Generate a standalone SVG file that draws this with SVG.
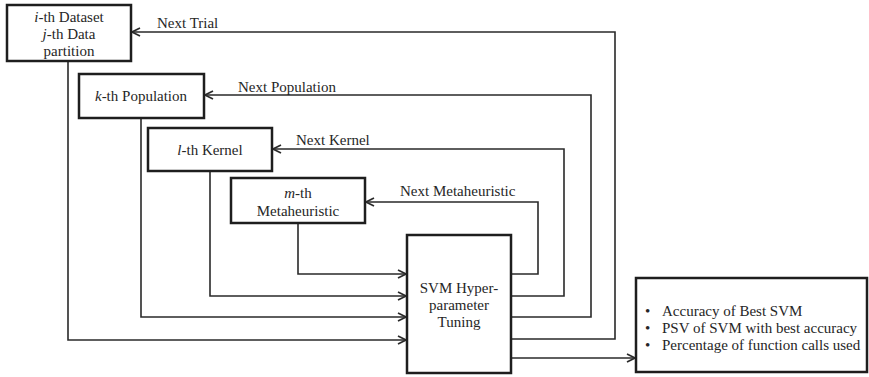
<svg xmlns="http://www.w3.org/2000/svg" width="869" height="377" viewBox="0 0 869 377">
  <style>
    .box { fill: #ffffff; stroke: #1e1e1e; stroke-width: 2.5; }
    .wire { fill: none; stroke: #2a2a2a; stroke-width: 1.6; }
    .lbl { font-family: "Liberation Serif", "DejaVu Serif", serif; font-size: 15px; fill: #262626; }
    .mid { text-anchor: middle; }
    .it { font-style: italic; }
  </style>
  <defs>
    <marker id="chev" viewBox="0 0 10 10" refX="9" refY="5" markerWidth="10" markerHeight="10" markerUnits="userSpaceOnUse" orient="auto">
      <path d="M1,1 L9,5 L1,9" fill="none" stroke="#2a2a2a" stroke-width="1.7"/>
    </marker>
  </defs>

  <!-- connectors -->
  <g id="connectors">
    <!-- feedback loops from the tuning block back to each level -->
    <path class="wire" d="M511,339 H615 V32 H132" marker-end="url(#chev)"/>
    <path class="wire" d="M511,317 H591 V95 H205" marker-end="url(#chev)"/>
    <path class="wire" d="M511,296 H564 V149 H273" marker-end="url(#chev)"/>
    <path class="wire" d="M511,274 H538 V202 H366" marker-end="url(#chev)"/>
    <!-- forward feeds into the tuning block -->
    <path class="wire" d="M68,61 V340 H406" marker-end="url(#chev)"/>
    <path class="wire" d="M141,118 V317 H406" marker-end="url(#chev)"/>
    <path class="wire" d="M210,171 V296 H406" marker-end="url(#chev)"/>
    <path class="wire" d="M298,223 V274 H406" marker-end="url(#chev)"/>
    <!-- result output -->
    <path class="wire" d="M511,358 H635" marker-end="url(#chev)"/>
    <text class="lbl" x="157" y="28">Next Trial</text>
    <text class="lbl" x="238" y="92">Next Population</text>
    <text class="lbl" x="296" y="145">Next Kernel</text>
    <text class="lbl" x="400" y="196">Next Metaheuristic</text>
  </g>

  <g id="dataset">
    <rect class="box" x="7" y="5" width="124" height="56"/>
    <text class="lbl mid" x="69" y="22"><tspan class="it">i</tspan>-th Dataset</text>
    <text class="lbl mid" x="69" y="39"><tspan class="it">j</tspan>-th Data</text>
    <text class="lbl mid" x="69" y="56">partition</text>
  </g>

  <g id="population">
    <rect class="box" x="79" y="74" width="125" height="44"/>
    <text class="lbl mid" x="141" y="101"><tspan class="it">k</tspan>-th Population</text>
  </g>

  <g id="kernel">
    <rect class="box" x="148" y="128" width="124" height="43"/>
    <text class="lbl mid" x="210" y="155"><tspan class="it">l</tspan>-th Kernel</text>
  </g>

  <g id="metaheuristic">
    <rect class="box" x="231" y="178" width="134" height="45"/>
    <text class="lbl mid" x="298" y="198"><tspan class="it">m</tspan>-th</text>
    <text class="lbl mid" x="298" y="216">Metaheuristic</text>
  </g>

  <g id="tuning">
    <rect class="box" x="407" y="235" width="104" height="138"/>
    <text class="lbl mid" x="459" y="293">SVM Hyper-</text>
    <text class="lbl mid" x="459" y="310">parameter</text>
    <text class="lbl mid" x="459" y="327">Tuning</text>
  </g>

  <g id="results">
    <rect class="box" x="636" y="278" width="231" height="94"/>
    <text class="lbl" x="645" y="316">•</text>
    <text class="lbl" x="662" y="316">Accuracy of Best SVM</text>
    <text class="lbl" x="645" y="333">•</text>
    <text class="lbl" x="662" y="333">PSV of SVM with best accuracy</text>
    <text class="lbl" x="645" y="350">•</text>
    <text class="lbl" x="662" y="350">Percentage of function calls used</text>
  </g>
</svg>
